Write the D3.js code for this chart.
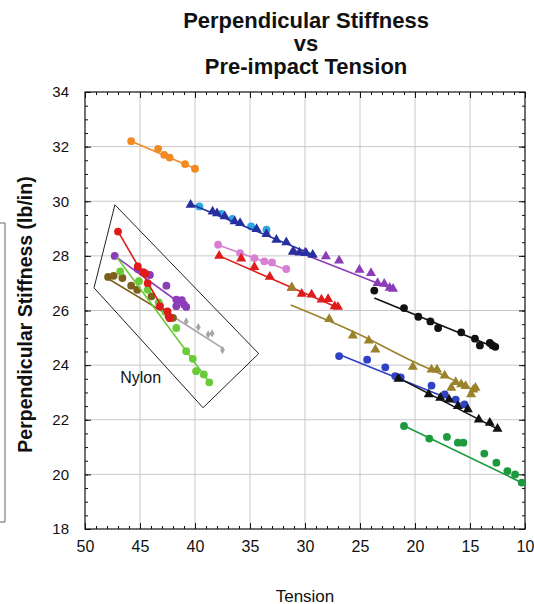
<!DOCTYPE html>
<html>
<head>
<meta charset="utf-8">
<script src="https://cdn.jsdelivr.net/npm/d3@7"></script>
<style>
  body { margin: 0; background: #fff; }
  text { font-family: "Liberation Sans", Arial, Helvetica, sans-serif; fill: #111; }
</style>
</head>
<body>
<svg width="534" height="604"></svg>
<script>
// tick values
const xTicks = [50, 45, 40, 35, 30, 25, 20, 15, 10]
const yTicks = [18, 20, 22, 24, 26, 28, 30, 32, 34]

// each series: [tension, stiffness]
const orangePts = [[45.8,32.2],[43.35,31.92],[42.8,31.7],[42.3,31.6],[40.9,31.36],[40.0,31.19]]
const orangeFit = [[45.8,32.2],[40.0,31.2]]

const navyPts = [[40.4,29.87],[38.4,29.62],[38.0,29.56],[37.3,29.45],[36.4,29.26],[35.9,29.2],[34.4,28.98],[33.5,28.8],
                 [32.6,28.59],[31.7,28.5],[31.1,28.16],[30.5,28.12],[29.9,28.1],[29.3,28.04]]
const navyFit = [[40.4,29.9],[29.0,28.0]]
const cyanPts = [[39.6,29.81],[37.6,29.54],[36.6,29.35],[34.9,29.08],[33.5,28.96]]
const violetPts = [[31.0,28.15],[30.0,28.12],[28.1,27.98],[26.9,27.83],[25.05,27.49],[24.0,27.37],[23.4,27.0],
                   [22.8,26.98],[22.3,26.83],[22.0,26.79]]
const violetFit = [[31.0,28.2],[22.0,26.78]]

const orchidPts = [[37.9,28.41],[35.9,28.1],[34.6,27.92],[33.7,27.8],[33.0,27.76],[31.7,27.52]]
const orchidFit = [[37.9,28.4],[31.7,27.5]]

const redTriPts = [[37.8,28.0],[35.8,27.9],[34.6,27.59],[33.2,27.23],[31.2,26.83],[30.3,26.61],[29.4,26.58],
                   [28.5,26.4],[27.9,26.42],[27.3,26.15],[27.0,26.13]]
const redTriFit = [[37.8,28.0],[27.0,26.1]]

const olivePts = [[31.2,26.84],[27.8,25.69],[25.65,25.08],[24.2,24.9],[23.6,24.57],[20.2,23.94],[18.5,23.84],
                  [18.0,23.84],[17.3,23.62],[16.7,23.17],[16.3,23.38],[15.8,23.3],[15.4,23.23],[14.9,22.93],
                  [14.7,23.1],[14.5,23.17]]
const oliveFit = [[31.3,26.2],[25.05,25.12],[20.5,24.2],[16.6,23.47],[14.5,23.05]]

const blackDotPts = [[23.7,26.73],[21.0,26.09],[19.7,25.77],[18.6,25.6],[17.9,25.36],[15.8,25.2],[14.55,24.97],
                     [14.1,24.72],[13.2,24.81],[12.95,24.72],[12.7,24.67]]
const blackDotFit = [[23.7,26.46],[12.6,24.63]]

const bluePts = [[26.9,24.33],[24.35,24.2],[22.7,23.92],[21.8,23.6],[21.3,23.55],[18.5,23.25],[17.3,22.93],
                 [16.3,22.74],[15.5,22.56]]
const blueFit = [[26.9,24.39],[15.3,22.5]]

const blackTriPts = [[21.5,23.5],[18.75,22.93],[17.7,22.8],[16.9,22.74],[16.1,22.5],[15.2,22.38],[14.2,22.01],
                     [13.2,21.89],[12.5,21.67]]
const blackTriFit = [[21.7,23.57],[12.3,21.62]]

const greenPts = [[21.0,21.77],[18.7,21.31],[17.1,21.37],[16.1,21.16],[15.6,21.16],[13.7,20.76],[12.6,20.43],
                  [11.6,20.12],[10.9,20.0],[10.3,19.7]]
const greenFit = [[21.1,21.8],[10.0,19.64]]

// nylon strings
const nylonRedPts = [[47.0,28.89],[45.2,27.61],[44.7,27.4],[44.5,27.35],[44.3,27.0],[43.2,26.15],[42.5,25.97],
                     [42.4,25.79],[42.3,25.72]]
const nylonRedFit = [[47.0,28.9],[42.4,25.7]]
const nylonPurplePts = [[47.3,28.0],[45.2,27.52],[44.1,27.3],[42.6,26.91],[41.7,26.4],[41.2,26.38],[41.0,26.22],
                        [40.8,26.13],[41.7,26.16]]
const nylonPurpleFit = [[47.3,28.0],[40.8,26.1]]
const limePts = [[46.8,27.43],[45.1,27.07],[44.3,26.76],[43.3,26.3],[42.7,25.95],[41.7,25.36],[40.8,24.51],
                 [40.2,24.23],[39.9,23.78],[39.2,23.66],[38.7,23.37]]
const limeFit = [[47.1,27.95],[38.7,23.37]]
const brownPts = [[47.9,27.23],[47.4,27.27],[46.6,27.19],[45.8,26.91],[45.25,26.76],[43.95,26.52],[43.2,26.18],[42.0,25.73]]
const brownFit = [[48.0,27.19],[42.0,25.73]]
const grayPts = [[42.0,25.73],[40.8,25.6],[39.7,25.39],[38.8,25.12],[38.45,25.16],[37.5,24.55]]
const grayFit = [[42.0,25.78],[37.5,24.62]]

const nylonBox = [[47.28,29.87],[49.18,26.83],[39.27,22.44],[34.21,24.42]]
const nylonLabel = [46.8, 23.35]

const series = [
  {pts: orangePts, fit: orangeFit, color: '#f28a24', shape: 'circle'},
  {pts: orchidPts, fit: orchidFit, color: '#d97fd3', shape: 'circle'},
  {pts: redTriPts, fit: redTriFit, color: '#e01b1b', shape: 'triangle'},
  {pts: olivePts, fit: oliveFit, color: '#9a822a', shape: 'triangle'},
  {pts: violetPts, fit: violetFit, color: '#8b3db8', shape: 'triangle'},
  {pts: cyanPts, fit: null, color: '#2ea6e2', shape: 'circle'},
  {pts: navyPts, fit: navyFit, color: '#27309f', shape: 'triangle'},
  {pts: blackDotPts, fit: blackDotFit, color: '#111111', shape: 'circle'},
  {pts: bluePts, fit: blueFit, color: '#2f41c4', shape: 'circle'},
  {pts: blackTriPts, fit: blackTriFit, color: '#111111', shape: 'triangle'},
  {pts: greenPts, fit: greenFit, color: '#1d9a3e', shape: 'circle'},
  {pts: grayPts, fit: grayFit, color: '#a6a6a6', shape: 'diamond'},
  {pts: brownPts, fit: brownFit, color: '#7d5e1c', shape: 'circle'},
  {pts: nylonPurplePts, fit: nylonPurpleFit, color: '#8b3db8', shape: 'circle'},
  {pts: limePts, fit: limeFit, color: '#6acb38', shape: 'circle'},
  {pts: nylonRedPts, fit: nylonRedFit, color: '#e01b1b', shape: 'circle'}
]

const svg = d3.select('svg')
const width = +svg.attr('width')
const height = +svg.attr('height')

const margin = {top: 92, right: 9, bottom: 75, left: 85}
const innerWidth = width - margin.left - margin.right
const innerHeight = height - margin.top - margin.bottom

const xScale = d3.scaleLinear().domain([50, 10]).range([0, innerWidth])
const yScale = d3.scaleLinear().domain([18, 34]).range([innerHeight, 0])

// title
const title = svg.append('text')
  .attr('text-anchor', 'middle')
  .style('font-weight', 'bold')
  .style('font-size', '22px')
title.selectAll('tspan').data(['Perpendicular Stiffness', 'vs', 'Pre-impact Tension'])
  .enter().append('tspan')
    .attr('x', 306)
    .attr('y', (d, i) => 28 + i * 23)
    .text(d => d)

// leftover frame edge at the far left
svg.append('path')
  .attr('d', 'M0,223H5V522H0')
  .attr('fill', 'none')
  .attr('stroke', '#666')

svg.append('text')
  .attr('transform', `translate(32,${margin.top + innerHeight / 2 + 4}) rotate(-90)`)
  .attr('text-anchor', 'middle')
  .style('font-size', '19.5px')
  .style('font-weight', 'bold')
  .text('Perpendicular Stiffness (lb/in)')

svg.append('text')
  .attr('x', 305)
  .attr('y', 602)
  .attr('text-anchor', 'middle')
  .style('font-size', '17px')
  .text('Tension')

const g = svg.append('g')
  .attr('transform', `translate(${margin.left},${margin.top})`)

// grid
g.append('g').selectAll('line').data(xTicks.slice(1, -1))
  .enter().append('line')
    .attr('x1', d => xScale(d)).attr('x2', d => xScale(d))
    .attr('y1', 0).attr('y2', innerHeight)
    .attr('stroke', '#c9c9c9')
g.append('g').selectAll('line').data(yTicks.slice(1, -1))
  .enter().append('line')
    .attr('y1', d => yScale(d)).attr('y2', d => yScale(d))
    .attr('x1', 0).attr('x2', innerWidth)
    .attr('stroke', '#c9c9c9')

// axes with inward ticks
const xMinor = d3.range(10, 51, 1)
const yMinor = d3.range(18, 34.01, 0.5)
const styleAxis = sel => {
  sel.select('.domain').remove()
  sel.selectAll('line').attr('stroke', '#111')
  sel.selectAll('text').filter(function() { return this.textContent === '' }).remove()
  sel.selectAll('text').style('font-size', '16px').attr('fill', '#111')
    .style('font-family', '"Liberation Sans", Arial, sans-serif')
}

g.append('g').attr('transform', `translate(0,${innerHeight})`)
  .call(d3.axisBottom(xScale).tickValues(xMinor).tickSize(-3).tickFormat(''))
  .call(styleAxis)
g.append('g').attr('transform', `translate(0,${innerHeight})`)
  .call(d3.axisBottom(xScale).tickValues(xTicks).tickSize(-6).tickPadding(12).tickFormat(d3.format('d')))
  .call(styleAxis)
g.append('g')
  .call(d3.axisTop(xScale).tickValues(xMinor).tickSize(-3).tickFormat(''))
  .call(styleAxis)
g.append('g')
  .call(d3.axisTop(xScale).tickValues(xTicks).tickSize(-6).tickFormat(''))
  .call(styleAxis)

g.append('g')
  .call(d3.axisLeft(yScale).tickValues(yMinor).tickSize(-3).tickFormat(''))
  .call(styleAxis)
g.append('g')
  .call(d3.axisLeft(yScale).tickValues(yTicks).tickSize(-6).tickPadding(16).tickFormat(d3.format('d')))
  .call(styleAxis)
  .call(a => a.selectAll('text').style('font-size', '15px'))
g.append('g').attr('transform', `translate(${innerWidth},0)`)
  .call(d3.axisRight(yScale).tickValues(yMinor).tickSize(-3).tickFormat(''))
  .call(styleAxis)
g.append('g').attr('transform', `translate(${innerWidth},0)`)
  .call(d3.axisRight(yScale).tickValues(yTicks).tickSize(-6).tickFormat(''))
  .call(styleAxis)

g.append('rect')
  .attr('width', innerWidth).attr('height', innerHeight)
  .attr('fill', 'none').attr('stroke', '#111').attr('stroke-width', 1.2)

// nylon group outline
g.append('path')
  .attr('d', d3.line().x(d => xScale(d[0])).y(d => yScale(d[1]))(nylonBox) + 'Z')
  .attr('fill', 'none')
  .attr('stroke', '#222')
  .attr('stroke-width', 1)
g.append('text')
  .attr('x', xScale(nylonLabel[0]))
  .attr('y', yScale(nylonLabel[1]))
  .style('font-size', '16px')
  .text('Nylon')

// series
const line = d3.line().x(d => xScale(d[0])).y(d => yScale(d[1])).curve(d3.curveMonotoneX)
const shapes = {circle: d3.symbolCircle, triangle: d3.symbolTriangle, diamond: d3.symbolDiamond}
const sizes = {circle: 48, triangle: 44, diamond: 20}

series.forEach(s => {
  const sg = g.append('g')
  if (s.fit) {
    sg.append('path')
      .attr('d', line(s.fit))
      .attr('fill', 'none')
      .attr('stroke', s.color)
      .attr('stroke-width', 1.6)
  }
  sg.selectAll('path.pt').data(s.pts)
    .enter().append('path')
      .attr('class', 'pt')
      .attr('transform', d => `translate(${xScale(d[0])},${yScale(d[1])})`)
      .attr('d', d3.symbol().type(shapes[s.shape]).size(sizes[s.shape]))
      .attr('fill', s.color)
})
</script>
</body>
</html>
